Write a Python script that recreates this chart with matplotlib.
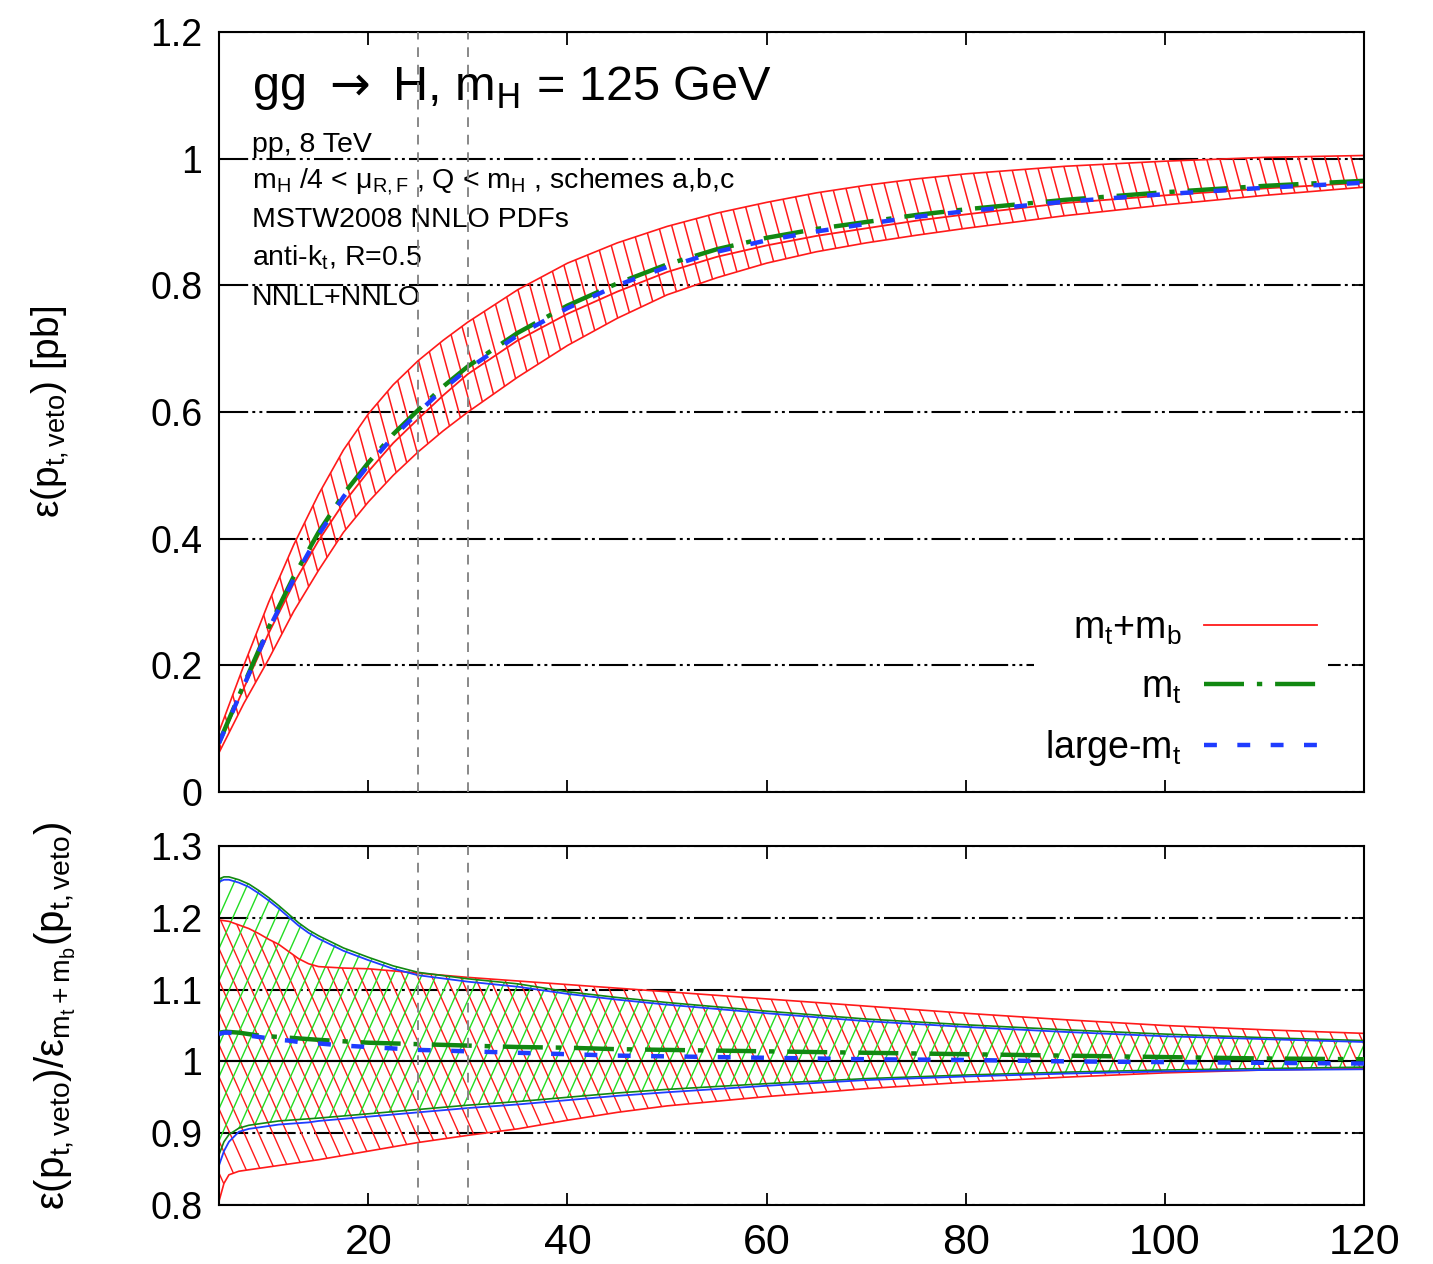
import numpy as np
import matplotlib
matplotlib.use("Agg")
import matplotlib.pyplot as plt
from matplotlib.collections import LineCollection
from matplotlib.patches import Polygon
from matplotlib.ticker import FuncFormatter

plt.rcParams['font.family'] = ['Liberation Sans', 'DejaVu Sans']
plt.rcParams['mathtext.fontset'] = 'custom'
plt.rcParams['mathtext.rm'] = 'Liberation Sans'
plt.rcParams['mathtext.it'] = 'Liberation Sans:italic'
plt.rcParams['mathtext.bf'] = 'Liberation Sans:bold'

# ---- top panel: efficiency vs pt,veto ----
x_top = [5, 7.5, 10, 12.5, 15, 17.5, 20, 22.5, 25, 27.5, 30, 35, 40, 45, 50,
         55, 60, 65, 70, 75, 80, 90, 100, 110, 120]
eff_mt = [0.078, 0.17, 0.26, 0.34, 0.41, 0.47, 0.52, 0.565, 0.603, 0.64, 0.672,
          0.725, 0.768, 0.803, 0.833, 0.857, 0.875, 0.889, 0.9, 0.911, 0.92,
          0.935, 0.947, 0.957, 0.965]
eff_large = [0.077, 0.168, 0.257, 0.336, 0.406, 0.466, 0.516, 0.561, 0.599, 0.636,
             0.668, 0.721, 0.764, 0.8, 0.829, 0.853, 0.871, 0.885, 0.897, 0.908,
             0.917, 0.932, 0.944, 0.954, 0.962]
eff_mtmb = [0.075, 0.164, 0.251, 0.329, 0.397, 0.456, 0.506, 0.551, 0.589, 0.626,
            0.660, 0.713, 0.755, 0.79, 0.821, 0.845, 0.863, 0.878, 0.89, 0.902,
            0.912, 0.93, 0.942, 0.953, 0.962]
eff_mtmb_hi = [0.095, 0.2, 0.30, 0.39, 0.47, 0.54, 0.597, 0.643, 0.681, 0.713,
               0.742, 0.793, 0.835, 0.867, 0.893, 0.914, 0.931, 0.946, 0.958,
               0.968, 0.976, 0.988, 0.996, 1.002, 1.005]
eff_mtmb_lo = [0.062, 0.14, 0.21, 0.285, 0.35, 0.41, 0.458, 0.50, 0.537, 0.57,
               0.60, 0.655, 0.705, 0.748, 0.785, 0.812, 0.835, 0.853, 0.867,
               0.879, 0.89, 0.91, 0.927, 0.942, 0.955]

# ---- bottom panel: ratio to mt+mb ----
x_bot = [5, 5.5, 6, 7, 8, 9, 10, 11, 12, 13, 14, 15, 17.5, 20, 22.5, 25, 30, 35,
         40, 45, 50, 60, 70, 80, 90, 100, 110, 120]
r_mtmb_hi = [1.197, 1.196, 1.195, 1.19, 1.185, 1.178, 1.17, 1.163, 1.153, 1.143,
             1.136, 1.132, 1.13, 1.129, 1.126, 1.123, 1.117, 1.112, 1.107, 1.102,
             1.097, 1.087, 1.077, 1.067, 1.058, 1.05, 1.044, 1.039]
r_mtmb_lo = [0.805, 0.83, 0.842, 0.847, 0.849, 0.851, 0.853, 0.855, 0.857, 0.859,
             0.861, 0.863, 0.869, 0.875, 0.881, 0.887, 0.897, 0.906, 0.918, 0.929,
             0.938, 0.951, 0.962, 0.971, 0.978, 0.984, 0.988, 0.99]
r_mt_hi = [1.254, 1.257, 1.257, 1.253, 1.247, 1.238, 1.228, 1.217, 1.205, 1.193,
           1.183, 1.175, 1.158, 1.145, 1.133, 1.124, 1.115, 1.108, 1.097, 1.089,
           1.082, 1.07, 1.059, 1.051, 1.044, 1.038, 1.033, 1.029]
r_mt_lo = [0.87, 0.888, 0.898, 0.907, 0.911, 0.913, 0.915, 0.917, 0.918, 0.919,
           0.92, 0.921, 0.924, 0.927, 0.93, 0.933, 0.939, 0.944, 0.95, 0.956,
           0.961, 0.969, 0.976, 0.981, 0.985, 0.988, 0.99, 0.992]
r_large_hi = [1.25, 1.253, 1.253, 1.249, 1.243, 1.234, 1.224, 1.213, 1.201, 1.189,
              1.179, 1.171, 1.154, 1.141, 1.129, 1.12, 1.111, 1.104, 1.094, 1.086,
              1.079, 1.067, 1.056, 1.048, 1.041, 1.035, 1.031, 1.027]
r_large_lo = [0.855, 0.875, 0.888, 0.902, 0.906, 0.908, 0.91, 0.912, 0.913, 0.914,
              0.915, 0.917, 0.92, 0.923, 0.926, 0.929, 0.935, 0.94, 0.946, 0.952,
              0.957, 0.966, 0.974, 0.979, 0.983, 0.986, 0.988, 0.989]
r_mt = [1.04, 1.041, 1.041, 1.04, 1.038, 1.036, 1.035, 1.034, 1.033, 1.032, 1.031,
        1.03, 1.028, 1.026, 1.025, 1.024, 1.022, 1.02, 1.019, 1.017, 1.016, 1.014,
        1.012, 1.01, 1.008, 1.006, 1.004, 1.003]
r_large = [1.038, 1.04, 1.04, 1.038, 1.036, 1.034, 1.032, 1.03, 1.029, 1.027, 1.026,
           1.025, 1.022, 1.02, 1.018, 1.016, 1.014, 1.012, 1.01, 1.008, 1.007, 1.005,
           1.003, 1.002, 1.0, 0.999, 0.998, 0.997]

top_yticks = [0, 0.2, 0.4, 0.6, 0.8, 1.0, 1.2]
bot_yticks = [0.8, 0.9, 1.0, 1.1, 1.2, 1.3]
xticks = [20, 40, 60, 80, 100, 120]
veto_lines = [25, 30]

RED = '#ff1a1a'
GREEN_H = '#22dd22'
GREEN = '#118811'
BLUE = '#1f3cff'
GRID_DASH = (0, (14, 2, 1.4, 2, 1.4, 2))


def hatch_band(ax, x, lo, hi, color, step, tilt, lw=1.0):
    poly = Polygon(np.column_stack([np.r_[x, x[::-1]], np.r_[lo, hi[::-1]]]),
                   closed=True, facecolor='none', edgecolor='none')
    ax.add_patch(poly)
    segs = [[(a, 0), (a + tilt, 1)] for a in np.arange(-1.0, 2.0, step)]
    lc = LineCollection(segs, colors=color, linewidths=lw, transform=ax.transAxes)
    lc.set_clip_path(poly)
    ax.add_collection(lc, autolim=False)


def style_axes(ax):
    ax.tick_params(direction='in', length=9, width=1.3, top=True, right=True)
    ax.tick_params(axis='y', labelsize=27, pad=12)
    ax.tick_params(axis='x', labelsize=31, pad=13)
    for s in ax.spines.values():
        s.set_linewidth(1.5)
    ax.yaxis.set_major_formatter(FuncFormatter(lambda v, p: '%g' % round(v, 3)))
    ax.grid(axis='y', color='k', lw=1.5, linestyle=GRID_DASH)
    for v in veto_lines:
        ax.axvline(v, color='#888888', lw=1.4, linestyle=(0, (5, 4)), zorder=4)


fig = plt.figure(figsize=(14.33, 12.64), dpi=100)
ax1 = fig.add_axes([0.1528, 0.3734, 0.7991, 0.6013])
ax2 = fig.add_axes([0.1528, 0.0467, 0.7991, 0.2840])

# top panel
xt = np.array(x_top)
hatch_band(ax1, xt, np.array(eff_mtmb_lo), np.array(eff_mtmb_hi), RED,
           0.0115, -0.18, lw=1.1)
ax1.plot(x_top, eff_mtmb_hi, color=RED, lw=1.2)
ax1.plot(x_top, eff_mtmb_lo, color=RED, lw=1.2)
ax1.plot(x_top, eff_mtmb, color=RED, lw=1.3, label=r'm$_{\rm t}$+m$_{\rm b}$')
ax1.plot(x_top, eff_mt, color=GREEN, lw=3.2, linestyle=(0, (9, 2.9, 1.2, 2.9)),
         label=r'm$_{\rm t}$')
ax1.plot(x_top, eff_large, color=BLUE, lw=3.2, linestyle=(0, (2.9, 4.6)),
         label=r'large-m$_{\rm t}$')

ax1.set_xlim(5, 120)
ax1.set_ylim(0, 1.2)
ax1.set_xticks(xticks)
ax1.set_yticks(top_yticks)
style_axes(ax1)
ax1.tick_params(labelbottom=False)

ax1.text(0.0288, 0.9105, r'gg $\rightarrow$ H, m$_{\rm H}$ = 125 GeV',
         transform=ax1.transAxes, fontsize=35, va='baseline',
         math_fontfamily='dejavusans')
notes = ['pp, 8 TeV',
         r'm$_{\rm H}$ /4 < μ$_{\rm R,F}$ , Q < m$_{\rm H}$ , schemes a,b,c',
         'MSTW2008 NNLO PDFs',
         r'anti-k$_{\rm t}$, R=0.5',
         'NNLL+NNLO']
note_y = [0.842, 0.795, 0.743, 0.693, 0.641]
for t, yy in zip(notes, note_y):
    ax1.text(0.0288, yy, t, transform=ax1.transAxes, fontsize=20.5, va='baseline')

leg = ax1.legend(loc='lower right', bbox_to_anchor=(0.985, -0.008), markerfirst=False,
                 fontsize=27, handlelength=3.0, labelspacing=0.6, borderpad=0.3,
                 handletextpad=0.6, frameon=True, fancybox=False, framealpha=1,
                 facecolor='white', edgecolor='none')

# bottom panel
xb = np.array(x_bot)
hatch_band(ax2, xb, np.array(r_mtmb_lo), np.array(r_mtmb_hi), RED,
           0.0125, -0.14, lw=1.0)
hatch_band(ax2, xb, np.array(r_mt_lo), np.array(r_mt_hi), GREEN_H,
           0.0125, 0.14, lw=1.0)
ax2.plot(x_bot, r_mtmb_hi, color=RED, lw=1.2)
ax2.plot(x_bot, r_mtmb_lo, color=RED, lw=1.2)
ax2.plot(x_bot, r_mt_hi, color=GREEN, lw=1.2)
ax2.plot(x_bot, r_mt_lo, color=GREEN, lw=1.2)
ax2.plot(x_bot, r_large_hi, color=BLUE, lw=1.3)
ax2.plot(x_bot, r_large_lo, color=BLUE, lw=1.3)
ax2.axhline(1.0, color='k', lw=1.5, zorder=2.5)
ax2.plot(x_bot, r_mt, color=GREEN, lw=3.2, linestyle=(0, (9, 2.9, 1.2, 2.9)), zorder=3)
ax2.plot(x_bot, r_large, color=BLUE, lw=3.2, linestyle=(0, (2.9, 4.6)), zorder=3)

ax2.set_xlim(5, 120)
ax2.set_ylim(0.8, 1.3)
ax2.set_xticks(xticks)
ax2.set_yticks(bot_yticks)
style_axes(ax2)

fig.text(50 / 1433, 1 - 412 / 1264, r'ε(p$_{\rm t,veto}$) [pb]', rotation=90,
         ha='center', va='center', fontsize=28)
fig.text(55 / 1433, 1 - 822 / 1264,
         r'ε(p$_{\rm t,veto}$)/ε$_{\rm m_t+m_b}$(p$_{\rm t,veto}$)', rotation=90,
         ha='center', va='top', fontsize=29)

fig.savefig('out.png', dpi=100)
